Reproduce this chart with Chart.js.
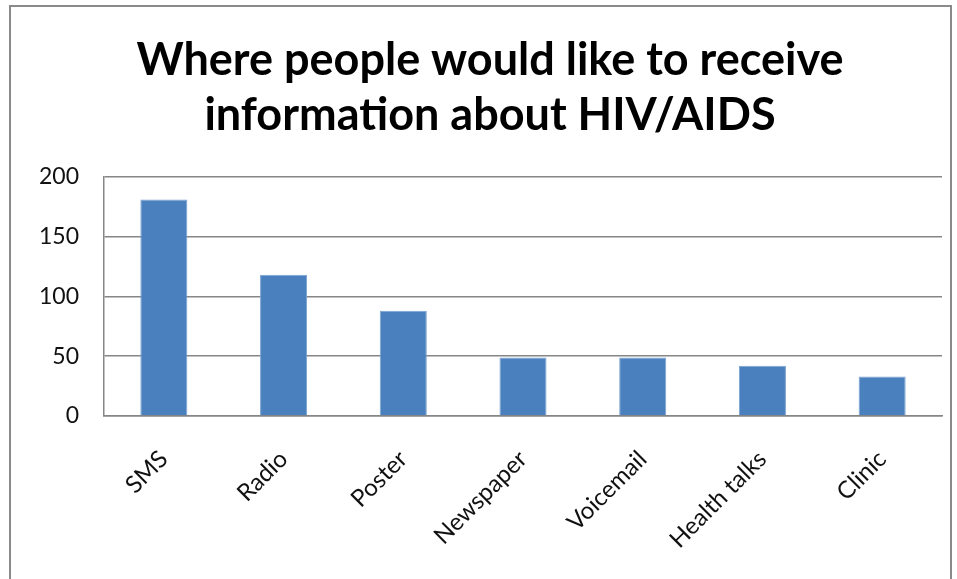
<!DOCTYPE html>
<html>
<head>
<meta charset="utf-8">
<script src="https://cdn.jsdelivr.net/npm/chart.js@4/dist/chart.umd.min.js"></script>
<style>
    html, body { margin: 0; padding: 0; background: #fff; overflow: hidden; }
    #wrap { position: relative; width: 957px; height: 579px; }
    #frame {
        position: absolute; left: 9px; top: 5px; width: 939px; height: 640px;
        border: 2px solid #8a8a8a; pointer-events: none;
    }
</style>
</head>
<body>
<div id="wrap">
    <canvas id="chart" width="957" height="579"></canvas>
    <div id="frame"></div>
</div>
<script>
// Chart data
const categories = ['SMS', 'Radio', 'Poster', 'Newspaper', 'Voicemail', 'Health talks', 'Clinic'];
const responses = [181, 118, 88, 49, 49, 42, 33];
const yTicks = [0, 50, 100, 150, 200];
const titleLines = ['Where people would like to receive', 'information about HIV/AIDS'];

const axisGray = '#868686';
const textColor = '#111';

const ctx = document.getElementById('chart').getContext('2d');
new Chart(ctx, {
    type: 'bar',
    data: {
        labels: categories,
        datasets: [{
            data: responses,
            backgroundColor: '#4a80bd',
            borderColor: '#7aa2d2',
            borderWidth: 1,
            categoryPercentage: 1,
            barPercentage: 0.393
        }]
    },
    options: {
        responsive: false,
        animation: false,
        // left padding pushes the title centre right like the original
        layout: { padding: { left: 38, right: 15, top: 0, bottom: 0 } },
        plugins: {
            legend: { display: false },
            tooltip: { enabled: false },
            title: {
                display: true,
                text: titleLines,
                color: '#000',
                font: { family: 'Lato', size: 45, weight: 'bold', lineHeight: 1.22 },
                padding: { top: 33, bottom: 34 }
            }
        },
        scales: {
            x: {
                grid: { display: false, drawTicks: false },
                border: { color: axisGray, width: 1.5 },
                ticks: {
                    color: textColor,
                    font: { family: 'Lato', size: 24 },
                    maxRotation: 45,
                    minRotation: 45,
                    padding: 29
                },
                afterFit: (scale) => { scale.height = 163; }
            },
            y: {
                min: 0,
                max: 200,
                grid: { color: axisGray, lineWidth: 1.5, drawTicks: false },
                border: { color: axisGray, width: 1.5 },
                ticks: {
                    color: textColor,
                    font: { family: 'Lato', size: 23 },
                    padding: 25
                },
                afterBuildTicks: (scale) => {
                    scale.ticks = yTicks.map(v => ({ value: v }));
                },
                afterFit: (scale) => { scale.width = 66; }
            }
        }
    }
});
</script>
</body>
</html>
